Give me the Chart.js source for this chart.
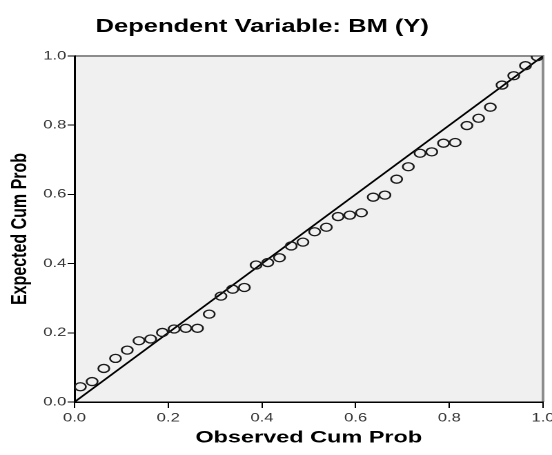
<!DOCTYPE html>
<html>
<head>
<meta charset="utf-8">
<script src="https://cdn.jsdelivr.net/npm/chart.js@4.4.1/dist/chart.umd.min.js"></script>
<style>
    html, body { margin: 0; padding: 0; background: #fff; overflow: hidden; }
    /* the original picture is stretched sideways, so draw narrow and stretch */
    #wrap { width: 400px; height: 455px; transform: scaleX(1.38); transform-origin: 0 0; }
</style>
</head>
<body>
<div id="wrap"><canvas id="idChartPP"></canvas></div>
<script>
var sTitle = 'Dependent Variable: BM (Y)';
var sXTitle = 'Observed Cum Prob';
var sYTitle = 'Expected Cum Prob';

// observed cumulative probability (x)
var aObserved = [0.0125, 0.0375, 0.0625, 0.0875, 0.1125, 0.1375, 0.1625, 0.1875, 0.2125, 0.2375,
                 0.2625, 0.2875, 0.3125, 0.3375, 0.3625, 0.3875, 0.4125, 0.4375, 0.4625, 0.4875,
                 0.5125, 0.5375, 0.5625, 0.5875, 0.6125, 0.6375, 0.6625, 0.6875, 0.7125, 0.7375,
                 0.7625, 0.7875, 0.8125, 0.8375, 0.8625, 0.8875, 0.9125, 0.9375, 0.9625, 0.9875];

// expected cumulative probability (y)
var aExpected = [0.044, 0.059, 0.097, 0.126, 0.150, 0.177, 0.182, 0.201, 0.211, 0.213,
                 0.213, 0.254, 0.306, 0.326, 0.331, 0.396, 0.403, 0.417, 0.451, 0.462,
                 0.492, 0.505, 0.536, 0.540, 0.547, 0.592, 0.598, 0.644, 0.680, 0.719,
                 0.723, 0.748, 0.750, 0.799, 0.820, 0.852, 0.916, 0.943, 0.972, 0.998];

// reference diagonal
var aLineX = [0, 1];
var aLineY = [0, 1];

var aTicks = [0, 0.2, 0.4, 0.6, 0.8, 1.0];

function initChartPP() {

    var aPoints = [];
    for (var i = 0; i < aObserved.length; i++) {
        aPoints.push({ x: aObserved[i], y: aExpected[i] });
    }
    var aLine = [];
    for (var j = 0; j < aLineX.length; j++) {
        aLine.push({ x: aLineX[j], y: aLineY[j] });
    }

    // plot background, grey top/right frame and the title
    const framePlugin = {
        id: 'frame',
        beforeDraw: function (chart) {
            var ctx = chart.ctx;
            var a = chart.chartArea;
            ctx.save();
            ctx.fillStyle = '#f0f0f0';
            ctx.fillRect(a.left, a.top, a.right - a.left, a.bottom - a.top);
            ctx.strokeStyle = '#8c8c8c';
            ctx.lineWidth = 2;
            ctx.beginPath();
            ctx.moveTo(a.left, a.top);
            ctx.lineTo(a.right, a.top);
            ctx.lineTo(a.right, a.bottom);
            ctx.stroke();
            ctx.fillStyle = '#000';
            ctx.font = 'bold 18.5px "Liberation Sans", Arial, sans-serif';
            ctx.textAlign = 'center';
            ctx.textBaseline = 'alphabetic';
            ctx.fillText(sTitle, 190, 32);
            ctx.restore();
        }
    };

    const data = {
        datasets: [{
            type: 'line',
            label: 'diagonal',
            data: aLine,
            borderColor: '#000',
            borderWidth: 1.5,
            pointRadius: 0,
            fill: false,
            order: 2
        }, {
            type: 'scatter',
            label: 'BM (Y)',
            data: aPoints,
            borderColor: '#1a1a1a',
            backgroundColor: 'rgba(0,0,0,0)',
            borderWidth: 1.3,
            pointRadius: 4,
            order: 1
        }]
    };

    const config = {
        type: 'scatter',
        data: data,
        plugins: [framePlugin],
        options: {
            responsive: true,
            maintainAspectRatio: false,
            devicePixelRatio: 2,
            animation: false,
            layout: { padding: { top: 56, right: 6.5, left: 0, bottom: 0 } },
            plugins: {
                legend: { display: false },
                tooltip: { enabled: false }
            },
            scales: {
                x: {
                    type: 'linear',
                    min: 0,
                    max: 1,
                    afterFit: function (scale) {
                        scale.height = 53;
                        // let the last label run off the edge like the original
                        scale.paddingLeft = 0;
                        scale.paddingRight = 0;
                    },
                    afterBuildTicks: function (scale) {
                        scale.ticks = aTicks.map(function (v) { return { value: v }; });
                    },
                    ticks: {
                        color: '#333',
                        padding: 3,
                        font: { family: '"Liberation Sans", Arial, sans-serif', size: 12 },
                        callback: function (v) { return v.toFixed(1); }
                    },
                    grid: { drawOnChartArea: false, color: '#000', tickLength: 6 },
                    border: { color: '#000', width: 1.5 },
                    title: {
                        display: true,
                        text: sXTitle,
                        color: '#000',
                        padding: { top: 0, bottom: 7 },
                        font: { family: '"Liberation Sans", Arial, sans-serif', size: 17, weight: 'bold' }
                    }
                },
                y: {
                    type: 'linear',
                    min: 0,
                    max: 1,
                    afterFit: function (scale) {
                        scale.width = 54;
                        scale.paddingTop = 0;
                        scale.paddingBottom = 0;
                    },
                    afterBuildTicks: function (scale) {
                        scale.ticks = aTicks.map(function (v) { return { value: v }; });
                    },
                    ticks: {
                        color: '#333',
                        padding: 1,
                        font: { family: '"Liberation Sans", Arial, sans-serif', size: 12 },
                        callback: function (v) { return v.toFixed(1); }
                    },
                    grid: { drawOnChartArea: false, color: '#000', tickLength: 5 },
                    border: { color: '#000', width: 1.5 },
                    title: {
                        display: true,
                        text: sYTitle,
                        color: '#000',
                        padding: { top: 5, bottom: 0 },
                        font: { family: '"Liberation Sans", Arial, sans-serif', size: 16, weight: 'bold' }
                    }
                }
            }
        }
    };

    const oChartPP = new Chart(
        document.getElementById('idChartPP'),
        config
    );
}

initChartPP();
</script>
</body>
</html>
